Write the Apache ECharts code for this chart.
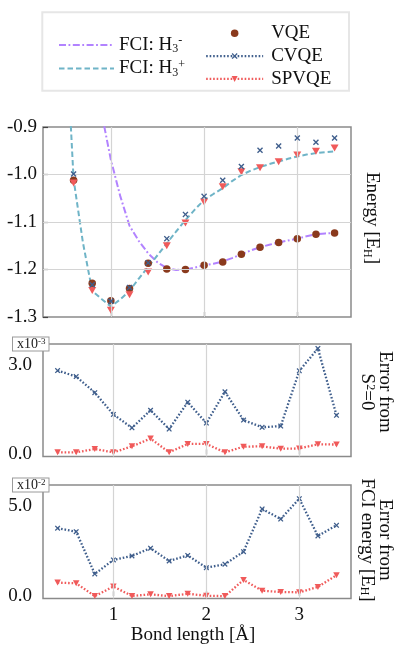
<!DOCTYPE html>
<html><head><meta charset="utf-8">
<script src="https://cdn.jsdelivr.net/npm/echarts@6/dist/echarts.min.js"></script>
<style>html,body{margin:0;padding:0;background:#fff}#c{width:395px;height:663px}</style>
</head><body><div id="c"></div>
<script>
// ---------------- data ----------------
const bond = [0.4,0.6,0.8,1.0,1.2,1.4,1.6,1.8,2.0,2.2,2.4,2.6,2.8,3.0,3.2,3.4];
const vqeEnergy   = [null,-1.012,-1.229,-1.266,-1.240,-1.187,-1.199,-1.200,-1.191,-1.184,-1.168,-1.153,-1.143,-1.135,-1.126,-1.123];
const cvqeEnergy  = [null,-0.999,-1.232,-1.267,-1.238,-1.186,-1.135,-1.084,-1.046,-1.012,-0.983,-0.949,-0.940,-0.923,-0.932,-0.923];
const spvqeEnergy = [null,-1.018,-1.244,-1.286,-1.253,-1.205,-1.150,-1.102,-1.058,-1.026,-0.994,-0.986,-0.973,-0.959,-0.951,-0.944];

const fciBond = [0.5,0.6,0.7,0.8,0.9,1.0,1.1,1.2,1.3,1.4,1.5,1.6,1.7,1.8,1.9,2.0,2.1,2.2,2.3,2.4,2.5,2.6,2.7,2.8,2.9,3.0,3.1,3.2,3.3,3.4];
const fciH3minus = [null,null,null,null,-0.870,-0.969,-1.045,-1.108,-1.140,-1.166,-1.185,-1.197,-1.201,-1.200,-1.196,-1.191,-1.188,-1.183,-1.176,-1.168,-1.160,-1.153,-1.148,-1.143,-1.139,-1.135,-1.130,-1.126,-1.124,-1.123];
const fciH3plus  = [-0.630,-1.010,-1.143,-1.245,-1.262,-1.278,-1.263,-1.245,-1.219,-1.1945,-1.170,-1.145,-1.120,-1.096,-1.074,-1.0535,-1.041,-1.029,-1.014,-1.001,-0.992,-0.9845,-0.978,-0.9726,-0.967,-0.962,-0.958,-0.955,-0.953,-0.9515];

// Error from S^2=0, in units of 1e-3
const cvqeS2Err  = [2.81,2.61,2.07,1.34,0.89,1.48,0.85,1.75,1.05,2.10,1.15,0.91,0.95,2.80,3.55,1.31];
const spvqeS2Err = [0.07,0.07,0.18,0.07,0.27,0.53,0.07,0.35,0.35,0.07,0.26,0.27,0.19,0.20,0.34,0.33];
// Error from FCI energy, in units of 1e-2
const cvqeFciErr  = [3.78,3.59,1.24,2.02,2.24,2.67,1.96,2.27,1.59,1.78,2.48,4.85,4.29,5.42,3.35,3.94];
const spvqeFciErr = [0.76,0.72,0.01,0.54,0.02,0.11,0.01,0.14,0.03,0.01,0.91,0.31,0.24,0.22,0.52,1.17];

const xTickValues = [1,2,3];
const energyGridValues = [-1.2,-1.1,-1.0];
const s2TickValues = [0,3];
const fciErrTickValues = [0,5];

// ---------------- style ----------------
const FONT = 'Liberation Serif';
const PURPLE = '#b283ff', TEAL = '#6fb4c7', BROWN = '#8a3a1d', BLUE = '#3f5e8c', RED = '#f05a5a';
const GRIDC = '#d4d4d4';
const XSYM = 'path://M0,1.6 L1.6,0 L5,3.4 L8.4,0 L10,1.6 L6.6,5 L10,8.4 L8.4,10 L5,6.6 L1.6,10 L0,8.4 L3.4,5 Z';
const TRISYM = 'path://M0,0 L10,0 L5,9 Z';
const pts = (xs, ys) => xs.map((x, i) => [x, ys[i]]);
const subRich = {
  sub: {fontFamily: FONT, fontSize: 12, verticalAlign: 'bottom', lineHeight: 12, color: '#111'},
  sup: {fontFamily: FONT, fontSize: 12, verticalAlign: 'top', lineHeight: 12, color: '#111'}
};

function xAx(gi, min, max, showLabels) {
  return {
    type: 'value', gridIndex: gi, min: min, max: max, splitNumber: 3,
    axisLine: {show: false},
    axisTick: {show: true, inside: true, length: 5, customValues: xTickValues, lineStyle: {color: '#111', width: 1.2}},
    axisLabel: {show: showLabels, customValues: xTickValues, margin: 7, fontFamily: FONT, fontSize: 19, color: '#111',
      formatter: v => String(v)},
    splitLine: {show: false}
  };
}
function yLow(gi, min, max, vals) {
  return {
    type: 'value', gridIndex: gi, min: min, max: max,
    axisLine: {show: false}, axisTick: {show: false}, splitLine: {show: false},
    axisLabel: {customValues: vals, margin: 11, padding: [0, 0, 6, 0], fontFamily: FONT, fontSize: 19, color: '#111',
      formatter: v => v.toFixed(1)}
  };
}
function gridLines(gi, withY) {
  const d = xTickValues.map(v => ({xAxis: v}));
  if (withY) energyGridValues.forEach(v => d.push({yAxis: v}));
  return {
    type: 'line', xAxisIndex: gi, yAxisIndex: gi, data: [], z: 1, silent: true,
    markLine: {silent: true, symbol: ['none', 'none'], label: {show: false}, animation: false,
      lineStyle: {color: GRIDC, width: 1.2, type: 'solid'}, emphasis: {disabled: true}, data: d}
  };
}
const gridCommon = {left: 43, right: 44, show: true, borderColor: '#8a8a8a', borderWidth: 1.5, backgroundColor: 'transparent'};

const dotted = c => ({color: c, width: 2.3, type: [1.6, 1.9], cap: 'butt'});

const option = {
  animation: false,
  backgroundColor: '#fff',
  grid: [
    Object.assign({top: 127, height: 190}, gridCommon),
    Object.assign({top: 344, height: 112.5}, gridCommon),
    Object.assign({top: 485, height: 113.5}, gridCommon)
  ],
  xAxis: [xAx(0, 0.272, 3.576, false), xAx(1, 0.243, 3.556, false), xAx(2, 0.243, 3.556, true)],
  yAxis: [
    {type: 'value', gridIndex: 0, min: -1.3, max: -0.9, interval: 0.1,
      axisLine: {show: false},
      axisTick: {show: true, inside: true, length: 5, lineStyle: {color: '#444', width: 1.2}},
      axisLabel: {margin: 6, fontFamily: FONT, fontSize: 19, color: '#111', formatter: v => v.toFixed(1)},
      splitLine: {show: false}},
    yLow(1, -0.07, 3.70, s2TickValues),
    yLow(2, -0.122, 6.18, fciErrTickValues)
  ],
  legend: [
    {orient: 'vertical', left: 53, top: 30, itemWidth: 55, itemHeight: 7.5, itemGap: 3.5, selectedMode: false,
      data: [{name: 'FCI: H3-', itemStyle: {opacity: 0}}, {name: 'FCI: H3+', itemStyle: {opacity: 0}}],
      lineStyle: {width: 'inherit'},
      formatter: n => n.replace(/H3([+-])/, 'H{sub|3}{sup|$1}'),
      textStyle: {fontFamily: FONT, fontSize: 19, color: '#111', lineHeight: 20, rich: subRich}},
    {orient: 'vertical', left: 200, top: 18.3, itemWidth: 57, itemHeight: 7.5, itemGap: 2.8, selectedMode: false,
      data: ['VQE', 'CVQE', 'SPVQE'],
      lineStyle: {width: 'inherit'},
      textStyle: {fontFamily: FONT, fontSize: 19, color: '#111', lineHeight: 20, padding: [0, 0, 0, 3]}}
  ],
  series: [
    gridLines(0, true), gridLines(1, false), gridLines(2, false),
    {name: 'FCI: H3-', type: 'line', xAxisIndex: 0, yAxisIndex: 0, data: pts(fciBond, fciH3minus),
      symbol: 'none', clip: true, z: 2, lineStyle: {color: PURPLE, width: 2, type: [7, 2.5, 1.8, 2.5]}, itemStyle: {color: PURPLE}},
    {name: 'FCI: H3+', type: 'line', xAxisIndex: 0, yAxisIndex: 0, data: pts(fciBond, fciH3plus),
      symbol: 'none', clip: true, z: 2, lineStyle: {color: TEAL, width: 2, type: [5.5, 3]}, itemStyle: {color: TEAL}},
    {name: 'VQE', type: 'scatter', xAxisIndex: 0, yAxisIndex: 0, data: pts(bond, vqeEnergy),
      symbol: 'circle', symbolSize: 7.5, z: 3, itemStyle: {color: BROWN, opacity: 1}},
    {name: 'SPVQE pts', type: 'scatter', xAxisIndex: 0, yAxisIndex: 0, data: pts(bond, spvqeEnergy),
      symbol: TRISYM, symbolSize: [8, 7], z: 4, itemStyle: {color: RED, opacity: 1}},
    {name: 'CVQE pts', type: 'scatter', xAxisIndex: 0, yAxisIndex: 0, data: pts(bond, cvqeEnergy),
      symbol: XSYM, symbolSize: 6, z: 5, itemStyle: {color: BLUE, opacity: 1}},

    {name: 'CVQE', type: 'line', xAxisIndex: 1, yAxisIndex: 1, data: pts(bond, cvqeS2Err),
      symbol: XSYM, symbolSize: 5.5, showAllSymbol: true, z: 4, lineStyle: dotted(BLUE), itemStyle: {color: BLUE}},
    {name: 'SPVQE', type: 'line', xAxisIndex: 1, yAxisIndex: 1, data: pts(bond, spvqeS2Err),
      symbol: TRISYM, symbolSize: [6.5, 6], showAllSymbol: true, z: 3, lineStyle: dotted(RED), itemStyle: {color: RED}},
    {name: 'CVQE', type: 'line', xAxisIndex: 2, yAxisIndex: 2, data: pts(bond, cvqeFciErr),
      symbol: XSYM, symbolSize: 5.5, showAllSymbol: true, z: 4, lineStyle: dotted(BLUE), itemStyle: {color: BLUE}},
    {name: 'SPVQE', type: 'line', xAxisIndex: 2, yAxisIndex: 2, data: pts(bond, spvqeFciErr),
      symbol: TRISYM, symbolSize: [6.5, 6], showAllSymbol: true, z: 3, lineStyle: dotted(RED), itemStyle: {color: RED}}
  ],
  graphic: [
    {type: 'rect', z: -10, shape: {x: 42.3, y: 12.3, width: 306.7, height: 78.4},
      style: {fill: '#fff', stroke: '#e6e6e6', lineWidth: 2}},
    {type: 'text', z: 100, x: 13, y: 337.5,
      style: {text: 'x10{sup|-3}', fontFamily: FONT, fontSize: 14, lineHeight: 13, fill: '#222', align: 'left', verticalAlign: 'top',
        backgroundColor: '#fff', borderColor: '#9a9a9a', borderWidth: 1, padding: [0, 3, 0, 4],
        rich: {sup: {fontFamily: FONT, fontSize: 9, verticalAlign: 'top', lineHeight: 9, fill: '#222'}}}},
    {type: 'text', z: 100, x: 13, y: 478.5,
      style: {text: 'x10{sup|-2}', fontFamily: FONT, fontSize: 14, lineHeight: 13, fill: '#222', align: 'left', verticalAlign: 'top',
        backgroundColor: '#fff', borderColor: '#9a9a9a', borderWidth: 1, padding: [0, 3, 0, 4],
        rich: {sup: {fontFamily: FONT, fontSize: 9, verticalAlign: 'top', lineHeight: 9, fill: '#222'}}}},
    {type: 'text', x: 372, y: 218, rotation: -Math.PI / 2,
      style: {text: 'Energy [E{sub|H}]', fontFamily: FONT, fontSize: 19, lineHeight: 22, fill: '#111', align: 'center', verticalAlign: 'middle',
        rich: subRich}},
    {type: 'text', x: 376, y: 392, rotation: -Math.PI / 2,
      style: {text: 'Error from\nS{sup|2}=0', fontFamily: FONT, fontSize: 19, lineHeight: 18, fill: '#111', align: 'center', verticalAlign: 'middle',
        rich: subRich}},
    {type: 'text', x: 376, y: 540, rotation: -Math.PI / 2,
      style: {text: 'Error from\nFCI energy [E{sub|H}]', fontFamily: FONT, fontSize: 19, lineHeight: 18, fill: '#111', align: 'center', verticalAlign: 'middle',
        rich: subRich}},
    {type: 'text', x: 193, y: 635,
      style: {text: 'Bond length [Å]', fontFamily: FONT, fontSize: 19, fill: '#111', align: 'center', verticalAlign: 'middle'}}
  ]
};
const chart = echarts.init(document.getElementById('c'), null, {renderer: 'canvas'});
chart.setOption(option);
</script>
</body></html>
